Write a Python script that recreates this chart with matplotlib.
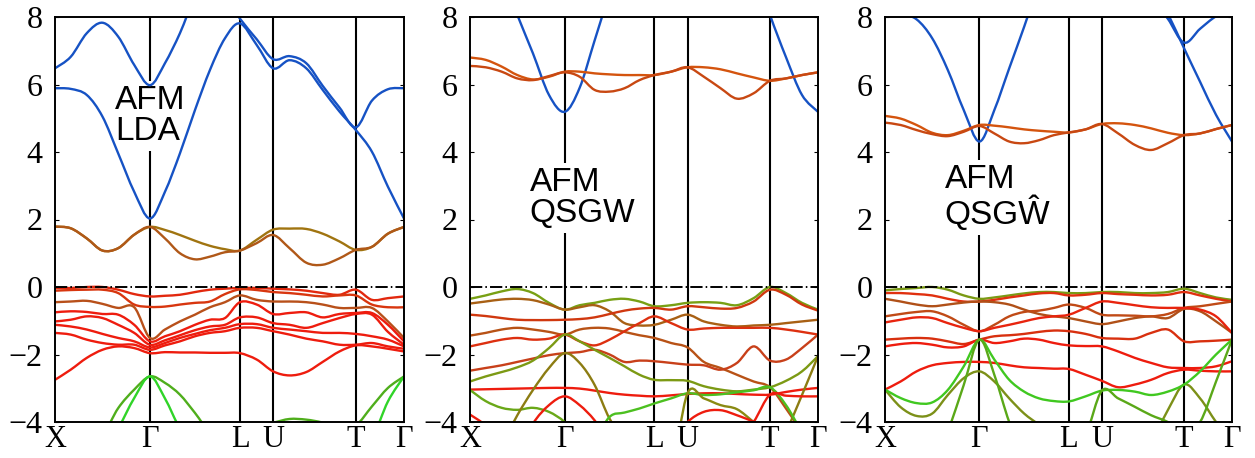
import matplotlib.pyplot as plt
from matplotlib.path import Path
from matplotlib.patches import PathPatch

plt.rcParams['font.family'] = ['Liberation Serif', 'DejaVu Serif']
plt.rcParams['axes.unicode_minus'] = True

# sample positions along the X-G-L-U-T-G path (fraction of panel width)
kpts = [0.0, 0.045, 0.091, 0.136, 0.181, 0.227, 0.272, 0.315, 0.358, 0.401, 0.444, 0.487,
        0.53, 0.578, 0.625, 0.672, 0.72, 0.767, 0.815, 0.862, 0.908, 0.954, 1.0]
sym_pos = [0.0, 0.272, 0.53, 0.625, 0.862, 1.0]
sym_lbl = ['X', 'Γ', 'L', 'U', 'T', 'Γ']

BLUE = '#1652c4'
RED = '#ee1c0e'

# ---------- panel 1 : AFM LDA ----------
lda_b1 = [5.89, 5.87, 5.69, 5.05, 3.96, 2.82, 2.03, 2.82, 3.96, 5.24, 6.43, 7.37, 7.81, 7.17, 6.48, 6.72, 6.48, 5.84, 5.20, 4.65, 4.01, 2.97, 2.03]
lda_b2 = [6.48, 6.82, 7.52, 7.83, 7.42, 6.58, 5.98, 6.63, 7.52, 8.6, 9.2, 8.6, 7.95, 7.34, 6.75, 6.84, 6.63, 5.96, 5.32, 4.73, 5.52, 5.86, 5.89]
lda_o1 = [1.79, 1.74, 1.44, 1.08, 1.15, 1.55, 1.78, 1.69, 1.54, 1.37, 1.22, 1.12, 1.08, 1.40, 1.70, 1.73, 1.72, 1.58, 1.35, 1.10, 1.19, 1.58, 1.78]
lda_o2 = [1.79, 1.74, 1.44, 1.08, 1.15, 1.55, 1.78, 1.44, 1.00, 0.82, 0.90, 1.03, 1.08, 1.30, 1.54, 1.15, 0.72, 0.66, 0.85, 1.10, 1.19, 1.58, 1.78]
lda_v1 = [-0.03, -0.03, 0.0, 0.0, -0.08, -0.21, -0.28, -0.26, -0.23, -0.15, -0.08, -0.05, -0.03, -0.03, -0.05, -0.07, -0.11, -0.18, -0.23, -0.08, -0.38, -0.33, -0.28]
lda_v2 = [-0.11, -0.09, -0.08, -0.08, -0.18, -0.52, -0.59, -0.58, -0.52, -0.47, -0.43, -0.21, -0.07, -0.09, -0.15, -0.18, -0.23, -0.28, -0.25, -0.25, -0.52, -0.60, -0.60]
lda_v3 = [-0.45, -0.43, -0.41, -0.50, -0.62, -0.60, -1.51, -1.26, -1.02, -0.82, -0.60, -0.45, -0.25, -0.38, -0.43, -0.43, -0.45, -0.52, -0.62, -0.62, -0.62, -1.02, -1.51]
lda_v4 = [-0.75, -0.72, -0.74, -0.80, -0.82, -1.12, -1.61, -1.46, -1.31, -1.12, -0.97, -0.92, -0.45, -0.52, -0.80, -0.77, -0.75, -0.90, -0.80, -0.77, -0.77, -1.12, -1.61]
lda_v5 = [-1.02, -0.97, -0.87, -0.92, -1.12, -1.36, -1.71, -1.58, -1.43, -1.28, -1.17, -1.12, -0.90, -0.90, -1.07, -1.12, -1.21, -1.07, -0.92, -0.80, -0.82, -1.33, -1.71]
lda_v6 = [-1.12, -1.17, -1.26, -1.39, -1.51, -1.61, -1.79, -1.66, -1.51, -1.39, -1.28, -1.21, -1.10, -1.10, -1.21, -1.26, -1.31, -1.36, -1.36, -1.39, -1.46, -1.56, -1.76]
lda_v7 = [-1.36, -1.41, -1.56, -1.66, -1.71, -1.71, -1.86, -1.73, -1.61, -1.46, -1.36, -1.31, -1.21, -1.21, -1.31, -1.41, -1.53, -1.61, -1.71, -1.71, -1.66, -1.76, -1.83]
lda_v8 = [-2.75, -2.45, -2.10, -1.86, -1.76, -1.81, -1.96, -1.93, -1.94, -1.94, -1.95, -1.95, -1.96, -2.15, -2.50, -2.62, -2.52, -2.22, -1.91, -1.73, -1.76, -1.83, -1.91]
lda_g1 = [-5.0, -4.8, -4.6, -4.4, -3.59, -3.04, -2.65, -2.84, -3.19, -3.73, -4.3, -4.4, -4.3, -4.1, -4.02, -3.91, -3.93, -4.02, -4.2, -4.1, -3.54, -2.99, -2.65]
lda_g2 = [-5.5, -5.4, -5.2, -5.0, -4.2, -3.29, -2.65, -3.3, -4.2, -4.8, -5.0, -5.2, -5.3, -5.3, -5.3, -5.3, -5.3, -5.2, -5.0, -4.9, -4.5, -3.39, -2.65]

# ---------- panel 2 : AFM QSGW ----------
gw_b1 = [10.5, 10.0, 9.3, 8.06, 6.92, 5.69, 5.19, 5.90, 7.30, 8.70, 10.0, 10.5, 11.0, 11.0, 11.0, 11.0, 11.0, 11.0, 9.5, 8.06, 6.81, 5.69, 5.19]
gw_o1 = [6.80, 6.73, 6.53, 6.28, 6.15, 6.23, 6.38, 6.38, 6.33, 6.30, 6.28, 6.28, 6.28, 6.38, 6.51, 6.51, 6.45, 6.33, 6.21, 6.11, 6.18, 6.28, 6.36]
gw_o2 = [6.55, 6.51, 6.38, 6.18, 6.13, 6.25, 6.36, 6.23, 5.84, 5.79, 5.89, 6.13, 6.28, 6.38, 6.51, 6.23, 5.89, 5.58, 5.74, 6.11, 6.18, 6.28, 6.36]
gw_c1 = [-0.35, -0.25, -0.13, -0.06, -0.18, -0.47, -0.67, -0.54, -0.47, -0.38, -0.35, -0.43, -0.57, -0.54, -0.47, -0.45, -0.47, -0.54, -0.33, 0.0, -0.18, -0.47, -0.67]
gw_c2 = [-0.49, -0.43, -0.37, -0.35, -0.39, -0.52, -0.67, -0.60, -0.54, -0.72, -1.07, -1.14, -1.12, -0.97, -0.82, -1.02, -1.12, -1.17, -1.14, -1.12, -1.07, -1.02, -0.97]
gw_c3 = [-0.82, -0.86, -0.92, -0.97, -0.98, -0.98, -0.97, -0.95, -0.90, -0.80, -0.70, -0.64, -0.62, -0.67, -0.57, -0.60, -0.64, -0.62, -0.43, -0.08, -0.23, -0.52, -0.70]
gw_c4 = [-1.44, -1.36, -1.26, -1.21, -1.26, -1.33, -1.41, -1.26, -1.21, -1.23, -1.33, -1.43, -1.51, -1.66, -1.79, -2.22, -2.40, -2.60, -2.80, -2.97, -3.6, -4.3, -5.0]
gw_c5 = [-1.76, -1.66, -1.56, -1.51, -1.56, -1.53, -1.41, -1.61, -1.73, -1.56, -1.31, -1.07, -0.87, -1.07, -1.26, -1.23, -1.21, -1.21, -1.21, -1.21, -1.26, -1.33, -1.41]
gw_c6 = [-2.48, -2.40, -2.32, -2.22, -2.12, -2.02, -1.96, -1.93, -1.86, -2.00, -2.22, -2.18, -2.20, -2.25, -2.30, -2.32, -2.45, -2.25, -1.76, -2.18, -2.15, -1.81, -1.41]
gw_c7 = [-2.80, -2.65, -2.52, -2.38, -2.18, -1.81, -1.41, -1.61, -1.86, -2.10, -2.35, -2.60, -2.75, -2.76, -2.78, -2.94, -3.04, -3.09, -3.04, -2.97, -2.78, -2.50, -2.05]
gw_c8 = [-3.04, -3.03, -3.02, -3.01, -3.00, -2.99, -2.99, -3.01, -3.07, -3.14, -3.19, -3.22, -3.24, -3.21, -3.17, -3.15, -3.15, -3.17, -3.19, -3.19, -3.11, -3.04, -2.99]
gw_c9 = [-3.05, -3.38, -3.58, -3.64, -3.58, -3.70, -4.0, -4.5, -5.5, -6, -6, -6, -6, -6, -6, -6, -6, -6, -6, -6, -6, -6, -6]
gw_c10 = [-6, -5.5, -4.7, -3.8, -3.05, -2.4, -1.96, -2.25, -2.9, -3.9, -4.5, -5.2, -6, -6, -6, -6, -6, -6, -6, -5.2, -4.3, -3.2, -2.05]
gw_c11 = [-6, -6, -5.5, -5.0, -4.05, -3.5, -3.24, -3.5, -3.95, -4.6, -5.2, -6, -6, -6, -6, -6, -6, -6, -6, -6, -6, -6, -6]
gw_c12 = [-6, -6, -6, -6, -6, -6, -6, -5.5, -4.6, -3.85, -3.72, -3.6, -3.45, -3.30, -3.15, -3.20, -3.18, -3.12, -3.06, -2.97, -3.5, -4.3, -5.0]
gw_c13 = [-6, -6, -6, -6, -6, -6, -6, -6, -6, -6, -6, -6, -6, -5.5, -3.15, -3.3, -3.5, -3.62, -4.0, -4.4, -5, -6, -6]
gw_c14 = [-3.78, -4.1, -4.6, -5.2, -6, -6, -6, -6, -6, -6, -6, -6, -6, -6, -6, -6, -6, -6, -6, -6, -6, -6, -6]
gw_c15 = [-6, -6, -6, -6, -6, -6, -6, -6, -6, -6, -6, -6, -6, -4.6, -4.0, -3.7, -3.65, -3.8, -4.0, -4.3, -5, -6, -6]
gw_c16 = [-6, -6, -6, -6, -6, -6, -6, -6, -6, -6, -6, -6, -6, -6, -6, -6, -6, -4.6, -4.0, -3.19, -3.22, -3.24, -3.24]

# ---------- panel 3 : AFM QSGW-hat ----------
gwh_b1 = [8.15, 8.10, 7.93, 7.37, 6.43, 5.24, 4.31, 5.24, 6.48, 7.71, 9.0, 10.0, 11.0, 11.0, 11.0, 11.0, 11.0, 9.0, 8.1, 7.07, 6.08, 5.10, 4.31]
gwh_b2 = [11, 11, 11, 11, 11, 11, 11, 11, 11, 11, 11, 11, 11, 11, 11, 11, 11, 8.6, 7.95, 7.24, 7.65, 8.02, 8.2]
gwh_o1 = [5.07, 4.99, 4.80, 4.57, 4.50, 4.63, 4.80, 4.78, 4.73, 4.67, 4.63, 4.60, 4.58, 4.67, 4.83, 4.85, 4.80, 4.70, 4.57, 4.50, 4.55, 4.68, 4.80]
gwh_o2 = [4.87, 4.80, 4.65, 4.53, 4.47, 4.60, 4.77, 4.55, 4.31, 4.26, 4.35, 4.50, 4.58, 4.67, 4.83, 4.55, 4.21, 4.06, 4.26, 4.50, 4.55, 4.68, 4.80]
gwh_d1 = [-0.10, -0.06, -0.03, 0.0, -0.08, -0.25, -0.35, -0.31, -0.25, -0.19, -0.15, -0.15, -0.18, -0.18, -0.15, -0.15, -0.18, -0.18, -0.15, -0.05, -0.18, -0.31, -0.38]
gwh_d2 = [-0.18, -0.18, -0.21, -0.25, -0.35, -0.43, -0.43, -0.38, -0.31, -0.25, -0.19, -0.18, -0.25, -0.23, -0.18, -0.21, -0.23, -0.25, -0.23, -0.15, -0.25, -0.35, -0.43]
gwh_d3 = [-0.35, -0.43, -0.52, -0.57, -0.52, -0.46, -0.43, -0.45, -0.52, -0.67, -0.80, -0.87, -0.92, -1.02, -1.10, -1.02, -0.92, -0.87, -0.92, -0.65, -0.72, -1.02, -1.36]
gwh_d4 = [-0.87, -0.80, -0.74, -0.72, -0.87, -1.12, -1.31, -1.12, -0.87, -0.74, -0.70, -0.62, -0.52, -0.62, -0.82, -0.84, -0.85, -0.87, -0.80, -0.62, -0.57, -0.50, -0.43]
gwh_d5 = [-1.05, -0.97, -0.90, -0.92, -1.07, -1.21, -1.31, -1.21, -1.12, -1.02, -0.92, -0.87, -0.82, -0.62, -0.43, -0.47, -0.54, -0.60, -0.62, -0.62, -0.67, -0.87, -1.36]
gwh_d6 = [-1.56, -1.53, -1.51, -1.53, -1.61, -1.69, -1.56, -1.46, -1.43, -1.39, -1.33, -1.29, -1.31, -1.39, -1.51, -1.53, -1.53, -1.36, -1.26, -1.61, -1.61, -1.59, -1.56]
gwh_d7 = [-1.76, -1.69, -1.66, -1.71, -1.79, -1.76, -1.56, -1.66, -1.61, -1.53, -1.56, -1.66, -1.73, -1.75, -1.76, -1.91, -2.10, -2.25, -2.38, -2.40, -2.40, -2.35, -2.20]
gwh_d8 = [-3.04, -2.80, -2.50, -2.32, -2.25, -2.22, -2.22, -2.25, -2.32, -2.38, -2.40, -2.42, -2.43, -2.60, -2.78, -2.97, -2.89, -2.75, -2.55, -2.45, -2.48, -2.50, -2.50]
gwh_d9 = [-3.04, -3.56, -3.82, -3.75, -3.20, -2.70, -2.50, -2.80, -3.30, -3.75, -4.10, -4.6, -5.0, -5.0, -5.0, -5.0, -5.0, -4.6, -3.65, -2.89, -3.3, -4.0, -4.6]
gwh_d10 = [-3.04, -3.29, -3.44, -3.42, -3.05, -2.35, -1.56, -2.15, -2.75, -3.10, -3.30, -3.38, -3.39, -3.24, -3.07, -3.05, -3.10, -3.20, -3.10, -2.89, -2.50, -2.00, -1.56]
gwh_d11 = [-6, -6, -6, -5.5, -4.3, -2.9, -1.56, -2.6, -4.0, -5, -5, -5, -5, -4.4, -3.07, -3.3, -3.55, -3.8, -4.0, -4.3, -4.0, -2.8, -1.56]

panels = [
    ('AFM\nLDA', 5.08, [
        (lda_b1, BLUE), (lda_b2, BLUE),
        (lda_o1, '#a07410'), (lda_o2, '#b05818'),
        (lda_v1, '#e2280e'), (lda_v2, '#d8360f'), (lda_v3, '#b8501a'),
        (lda_v4, RED), (lda_v5, RED), (lda_v6, RED), (lda_v7, RED), (lda_v8, RED),
        (lda_g1, '#4fae1c'), (lda_g2, '#30d428')]),
    ('AFM\nQSGW', 2.65, [
        (gw_b1, BLUE), (gw_o1, '#d4540e'), (gw_o2, '#c84812'),
        (gw_c1, '#78a014'), (gw_c2, '#a86014'), (gw_c3, '#d0380f'), (gw_c4, '#b85216'),
        (gw_c5, '#dd3010'), (gw_c6, '#c8401a'), (gw_c7, '#7c9a14'), (gw_c8, RED),
        (gw_c9, '#6aa818'), (gw_c10, '#8c7c12'), (gw_c11, RED), (gw_c12, '#4cc020'),
        (gw_c13, '#8a8a12'), (gw_c14, RED), (gw_c15, RED), (gw_c16, RED)]),
    ('AFM\nQSGŴ', 2.65, [
        (gwh_b1, BLUE), (gwh_b2, BLUE), (gwh_o1, '#d4540e'), (gwh_o2, '#c84812'),
        (gwh_d1, '#7a9a14'), (gwh_d2, '#e0300f'), (gwh_d3, '#b05018'), (gwh_d4, '#c04a16'),
        (gwh_d5, '#e8240e'), (gwh_d6, '#d8300f'), (gwh_d7, RED), (gwh_d8, RED),
        (gwh_d9, '#7c9018'), (gwh_d10, '#40c820'), (gwh_d11, '#5aa818')]),
]


def band_path(xs, ys):
    # smooth drawing through the read points (Catmull-Rom as cubic Bezier)
    n = len(xs)
    verts = [(xs[0], ys[0])]
    codes = [Path.MOVETO]
    for i in range(n - 1):
        xa, ya = (xs[i - 1], ys[i - 1]) if i > 0 else (xs[i], ys[i])
        xd, yd = (xs[i + 2], ys[i + 2]) if i + 2 < n else (xs[i + 1], ys[i + 1])
        c1 = (xs[i] + (xs[i + 1] - xa) / 6, ys[i] + (ys[i + 1] - ya) / 6)
        c2 = (xs[i + 1] - (xd - xs[i]) / 6, ys[i + 1] - (yd - ys[i]) / 6)
        verts += [c1, c2, (xs[i + 1], ys[i + 1])]
        codes += [Path.CURVE4] * 3
    return Path(verts, codes)


fig = plt.figure(figsize=(12.55, 4.58), dpi=100)
lefts = [55, 470, 885]
widths = [349, 348, 347]

for (label, ty, bands), l, w in zip(panels, lefts, widths):
    ax = fig.add_axes([l / 1255, 1 - 422 / 458, w / 1255, 405 / 458])
    for vals, col in bands:
        ax.add_patch(PathPatch(band_path(kpts, vals), fill=False, edgecolor=col,
                               lw=1.7, zorder=3, capstyle='round'))
    for xp in sym_pos[1:-1]:
        ax.axvline(xp, color='black', lw=1.5, zorder=1)
    ax.axhline(0, color='black', lw=1.4, dashes=(6.3, 1.6, 0.8, 1.6), zorder=4)
    ax.text(0.172, ty, label, ha='left', va='center', fontsize=24,
            family='Liberation Sans', linespacing=1.0, zorder=2,
            bbox=dict(facecolor='white', edgecolor='none', pad=3))
    ax.set_xlim(0, 1)
    ax.set_ylim(-4, 8)
    ax.set_xticks(sym_pos)
    ax.set_xticklabels(sym_lbl, fontsize=22)
    ax.set_yticks(range(-4, 9, 2))
    ax.tick_params(axis='y', labelsize=23)
    ax.tick_params(axis='x', length=0, pad=2)
    ax.tick_params(axis='y', direction='in', length=3, right=True, pad=9)
    for s in ax.spines.values():
        s.set_linewidth(1.4)
        s.set_zorder(5)

fig.savefig('out.png', dpi=100)
